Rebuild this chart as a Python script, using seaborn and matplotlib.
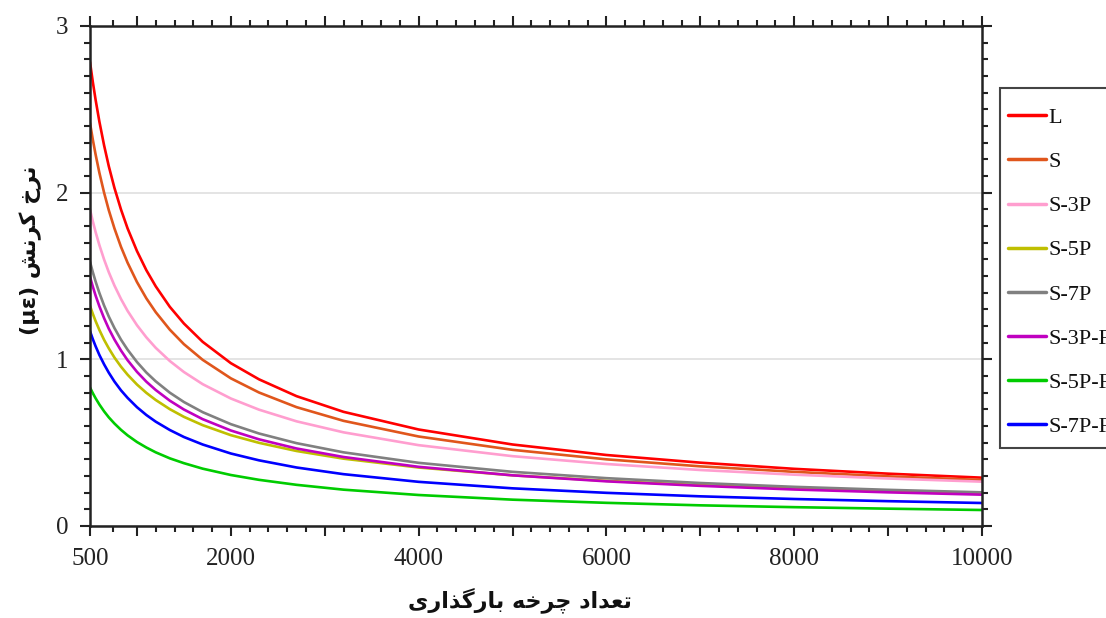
import numpy as np
import pandas as pd
import matplotlib
matplotlib.use("Agg")
import matplotlib.pyplot as plt
from matplotlib.patches import Rectangle
from matplotlib.ticker import FixedLocator, FixedFormatter, MultipleLocator
import seaborn as sns

# ---- data ----
cycles = [500, 530, 560, 600, 650, 700, 760, 830, 900, 1000, 1100, 1200, 1350, 1500, 1700,
          2000, 2300, 2700, 3200, 4000, 5000, 6000, 7000, 8000, 9000, 10000]
L      = [2.784, 2.664, 2.556, 2.426, 2.284, 2.159, 2.029, 1.899, 1.786, 1.650, 1.535, 1.438, 1.315,
          1.215, 1.105, 0.977, 0.880, 0.779, 0.685, 0.579, 0.489, 0.426, 0.380, 0.343, 0.314, 0.290]
S      = [2.418, 2.318, 2.228, 2.119, 2.000, 1.895, 1.786, 1.675, 1.580, 1.464, 1.366, 1.283, 1.178,
          1.091, 0.997, 0.886, 0.801, 0.713, 0.631, 0.537, 0.457, 0.400, 0.358, 0.325, 0.298, 0.276]
S_3P   = [1.899, 1.828, 1.763, 1.685, 1.599, 1.523, 1.443, 1.362, 1.291, 1.205, 1.132, 1.069, 0.990,
          0.924, 0.851, 0.765, 0.698, 0.628, 0.562, 0.485, 0.419, 0.372, 0.336, 0.308, 0.285, 0.266]
S_5P   = [1.321, 1.273, 1.229, 1.176, 1.117, 1.066, 1.011, 0.956, 0.908, 0.849, 0.799, 0.756, 0.701,
          0.655, 0.605, 0.545, 0.499, 0.450, 0.404, 0.351, 0.304, 0.271, 0.245, 0.225, 0.209, 0.195]
S_7P   = [1.585, 1.523, 1.466, 1.398, 1.323, 1.257, 1.188, 1.118, 1.058, 0.984, 0.921, 0.868, 0.800,
          0.744, 0.683, 0.611, 0.555, 0.497, 0.442, 0.379, 0.325, 0.287, 0.258, 0.235, 0.217, 0.202]
S_3P_F = [1.495, 1.436, 1.382, 1.318, 1.247, 1.184, 1.119, 1.053, 0.995, 0.925, 0.866, 0.816, 0.752,
          0.699, 0.641, 0.573, 0.520, 0.465, 0.414, 0.355, 0.304, 0.268, 0.241, 0.219, 0.202, 0.188]
S_5P_F = [0.831, 0.797, 0.766, 0.729, 0.688, 0.652, 0.615, 0.577, 0.544, 0.504, 0.471, 0.442, 0.406,
          0.377, 0.344, 0.306, 0.277, 0.247, 0.218, 0.186, 0.158, 0.139, 0.124, 0.113, 0.104, 0.096]
S_7P_F = [1.169, 1.121, 1.078, 1.026, 0.970, 0.920, 0.867, 0.814, 0.769, 0.713, 0.666, 0.626, 0.576,
          0.534, 0.489, 0.435, 0.394, 0.351, 0.311, 0.265, 0.226, 0.199, 0.178, 0.162, 0.149, 0.138]

series_names = ["L", "S", "S-3P", "S-5P", "S-7P", "S-3P-F", "S-5P-F", "S-7P-F"]
series_vals = [L, S, S_3P, S_5P, S_7P, S_3P_F, S_5P_F, S_7P_F]
colors = ["#ff0000", "#e0561c", "#ff9ecf", "#bfbf00", "#808080", "#c000c0", "#00cc00", "#0000ff"]

x_major = [500, 1000, 2000, 3000, 4000, 5000, 6000, 7000, 8000, 9000, 10000]
x_labels = ["500", "", "2000", "", "4000", "", "6000", "", "8000", "", "10000"]
y_major = [0, 1, 2, 3]
y_labels = ["0", "1", "2", "3"]

# Persian labels (presentation forms, visual order)
xlabel_text = ("\uFBFC\uFEAD\uFE8D\uFEAC\uFB94\uFEAD\uFE8E\uFE91" + " " +
               "\uFEEA\uFEA7\uFEAE\uFB7C" + " " +
               "\uFEA9\uFE8D\uFEAA\uFECC\uFE97")
ylabel_text = "(\u03bc\u03b5) " + "\uFEB6\uFEE7\uFEAE\uFB90" + " " + "\uFEA5\uFEAE\uFEE7"

df = pd.concat([pd.DataFrame({"cycles": cycles, "rate": v, "series": n})
                for n, v in zip(series_names, series_vals)], ignore_index=True)

sns.set_style("white")
plt.rcParams["font.family"] = ["Liberation Serif", "DejaVu Sans"]

W, H = 1106, 618
fig = plt.figure(figsize=(W / 100, H / 100), dpi=100)
ax = fig.add_axes([90 / W, 1 - 526 / H, (982 - 90) / W, 500 / H])

sns.lineplot(data=df, x="cycles", y="rate", hue="series", hue_order=series_names,
             palette=dict(zip(series_names, colors)), linewidth=1.9, ax=ax, legend=True)

ax.set_xlim(500, 10000)
ax.set_ylim(0, 3)
ax.yaxis.grid(True, color="#dddddd", linewidth=1.1)
ax.xaxis.grid(False)
ax.set_axisbelow(True)

ax.xaxis.set_major_locator(FixedLocator(x_major))
ax.xaxis.set_major_formatter(FixedFormatter(x_labels))
x_minor = [750] + [v for v in range(1200, 10000, 200) if v % 1000 != 0]
ax.xaxis.set_minor_locator(FixedLocator(x_minor))
ax.yaxis.set_major_locator(FixedLocator(y_major))
ax.yaxis.set_major_formatter(FixedFormatter(y_labels))
ax.yaxis.set_minor_locator(MultipleLocator(0.1))

for s in ax.spines.values():
    s.set_visible(True)
    s.set_color("#222222")
    s.set_linewidth(1.8)

ax.tick_params(which="both", direction="out", top=True, right=True, bottom=True, left=True,
               color="#222222", width=1.5)
ax.tick_params(which="major", length=7.5, labelsize=18, pad=8, labelcolor="#222222")
ax.tick_params(which="minor", length=4)

ax.set_xlabel(xlabel_text, fontsize=16, fontweight="bold", family=["DejaVu Sans"], color="#111111")
ax.set_ylabel(ylabel_text, fontsize=16, fontweight="bold", family=["DejaVu Sans"], color="#111111")
ax.xaxis.set_label_coords(0.482, -0.122)
ax.yaxis.set_label_coords(-0.054, 0.552)

# legend (no frame of its own; frame drawn as a figure rectangle, cut at the right edge)
leg = ax.legend(loc="upper left", bbox_to_anchor=(1008 / W, 1 - 107.5 / H),
                bbox_transform=fig.transFigure, borderaxespad=0, frameon=False, fontsize=16,
                handlelength=1.7, handletextpad=0.13, labelspacing=1.06, borderpad=0)
for h in leg.get_lines():
    h.set_linewidth(2.5)
for t in leg.get_texts():
    t.set_color("#111111")

frame = Rectangle((1000 / W, 1 - 448 / H), 140 / W, 360 / H, transform=fig.transFigure,
                  facecolor="white", edgecolor="#444444", linewidth=1.5, zorder=-1)
fig.add_artist(frame)

fig.savefig("out.png", dpi=100)
